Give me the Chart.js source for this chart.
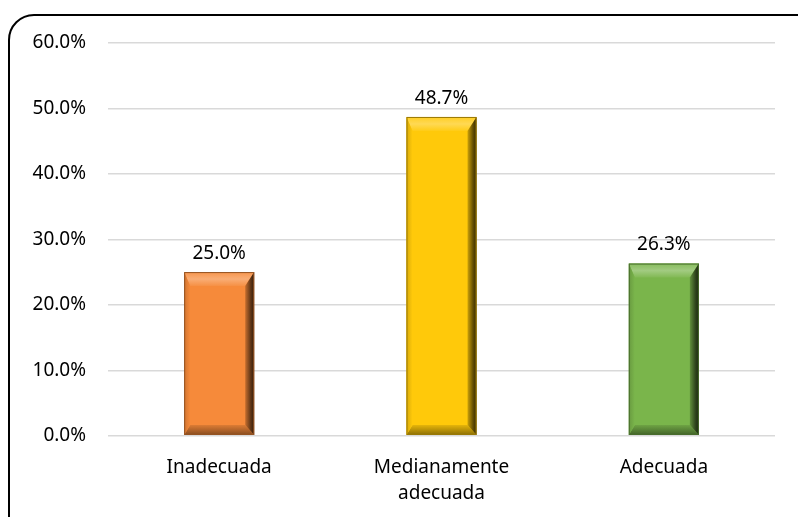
<!DOCTYPE html>
<html>
<head>
<meta charset="utf-8">
<script src="https://cdn.jsdelivr.net/npm/chart.js@4"></script>
<style>
  html, body { margin: 0; padding: 0; background: #fff; overflow: hidden; }
  #marco {
    position: absolute; left: 8px; top: 14px; width: 820px; height: 540px;
    border: 2px solid #000; border-radius: 26px; box-sizing: border-box;
  }
  #caja { position: absolute; left: 0; top: 0; width: 798px; height: 517px; }
</style>
</head>
<body>
<div id="marco"></div>
<div id="caja"><canvas id="grafico"></canvas></div>
<script>
const categorias = [['Inadecuada'], ['Medianamente', 'adecuada'], ['Adecuada']];
const valores = [25.0, 48.7, 26.3];
const colores = ['#F68A3A', '#FFC90A', '#7AB54B'];
const ticksY = [0, 10, 20, 30, 40, 50, 60];
const fuente = '"Noto Sans", "Open Sans", sans-serif';

function mezclar(hex, otro, t) {
    const a = parseInt(hex.slice(1), 16), b = parseInt(otro.slice(1), 16);
    const r = Math.round(((a >> 16) & 255) * (1 - t) + ((b >> 16) & 255) * t);
    const g = Math.round(((a >> 8) & 255) * (1 - t) + ((b >> 8) & 255) * t);
    const bl = Math.round((a & 255) * (1 - t) + (b & 255) * t);
    return `rgb(${r},${g},${bl})`;
}

// barras con biselado, a partir de los elementos de Chart.js
const bisel = {
    id: 'bisel',
    afterDatasetsDraw(chart) {
        const c = chart.ctx;
        const meta = chart.getDatasetMeta(0);
        meta.data.forEach((bar, i) => {
            const col = colores[i];
            const x0 = bar.x - bar.width / 2, x1 = bar.x + bar.width / 2;
            const y0 = bar.y, y1 = bar.base;
            const bt = 14, bb = 10, bl = 6, br = 9;
            c.save();
            c.fillStyle = col;
            c.fillRect(x0, y0, x1 - x0, y1 - y0);
            // arriba
            let g = c.createLinearGradient(0, y0, 0, y0 + bt);
            g.addColorStop(0, mezclar(col, '#FFFFFF', 0.1));
            g.addColorStop(0.5, mezclar(col, '#FFFFFF', 0.3));
            g.addColorStop(1, mezclar(col, '#FFFFFF', 0.05));
            c.fillStyle = g;
            c.beginPath();
            c.moveTo(x0, y0); c.lineTo(x1, y0); c.lineTo(x1 - br, y0 + bt); c.lineTo(x0 + bl, y0 + bt);
            c.closePath(); c.fill();
            // abajo
            g = c.createLinearGradient(0, y1 - bb, 0, y1);
            g.addColorStop(0, mezclar(col, '#000000', 0.1));
            g.addColorStop(1, mezclar(col, '#000000', 0.45));
            c.fillStyle = g;
            c.beginPath();
            c.moveTo(x0, y1); c.lineTo(x1, y1); c.lineTo(x1 - br, y1 - bb); c.lineTo(x0 + bl, y1 - bb);
            c.closePath(); c.fill();
            // izquierda
            g = c.createLinearGradient(x0, 0, x0 + bl, 0);
            g.addColorStop(0, mezclar(col, '#000000', 0.15));
            g.addColorStop(1, col);
            c.fillStyle = g;
            c.beginPath();
            c.moveTo(x0, y0); c.lineTo(x0 + bl, y0 + bt); c.lineTo(x0 + bl, y1 - bb); c.lineTo(x0, y1);
            c.closePath(); c.fill();
            // derecha
            g = c.createLinearGradient(x1 - br, 0, x1, 0);
            g.addColorStop(0, mezclar(col, '#000000', 0.2));
            g.addColorStop(0.6, mezclar(col, '#000000', 0.6));
            g.addColorStop(1, mezclar(col, '#000000', 0.8));
            c.fillStyle = g;
            c.beginPath();
            c.moveTo(x1, y0); c.lineTo(x1 - br, y0 + bt); c.lineTo(x1 - br, y1 - bb); c.lineTo(x1, y1);
            c.closePath(); c.fill();
            c.strokeStyle = mezclar(col, '#000000', 0.4);
            c.lineWidth = 1;
            c.strokeRect(x0 + 0.5, y0 + 0.5, x1 - x0 - 1, y1 - y0 - 1);
            // etiqueta
            c.fillStyle = '#000';
            c.font = '19px ' + fuente;
            c.textAlign = 'center';
            c.textBaseline = 'bottom';
            c.fillText(valores[i].toFixed(1) + '%', bar.x, y0 - 9);
            c.restore();
        });
    }
};

new Chart(document.getElementById('grafico'), {
    type: 'bar',
    data: {
        labels: categorias,
        datasets: [{
            data: valores,
            backgroundColor: 'rgba(0,0,0,0)',
            barPercentage: 0.63,
            categoryPercentage: 0.5
        }]
    },
    options: {
        responsive: true,
        maintainAspectRatio: false,
        animation: false,
        layout: { padding: { left: 20, right: 23, top: 43, bottom: 0 } },
        plugins: { legend: { display: false }, tooltip: { enabled: false } },
        scales: {
            x: {
                grid: { display: false },
                border: { display: false },
                ticks: {
                    color: '#000',
                    font: { family: fuente, size: 19, lineHeight: 1.35 },
                    padding: 11,
                    maxRotation: 0
                }
            },
            y: {
                min: 0, max: 60,
                afterBuildTicks(axis) { axis.ticks = ticksY.map(v => ({ value: v })); },
                afterFit(axis) { axis.width = 88; },
                grid: { color: '#D9D9D9', lineWidth: 1.5, drawTicks: false },
                border: { display: false },
                ticks: {
                    color: '#000',
                    font: { family: fuente, size: 19 },
                    padding: 22,
                    callback: v => v.toFixed(1) + '%'
                }
            }
        }
    },
    plugins: [bisel]
});
</script>
</body>
</html>
